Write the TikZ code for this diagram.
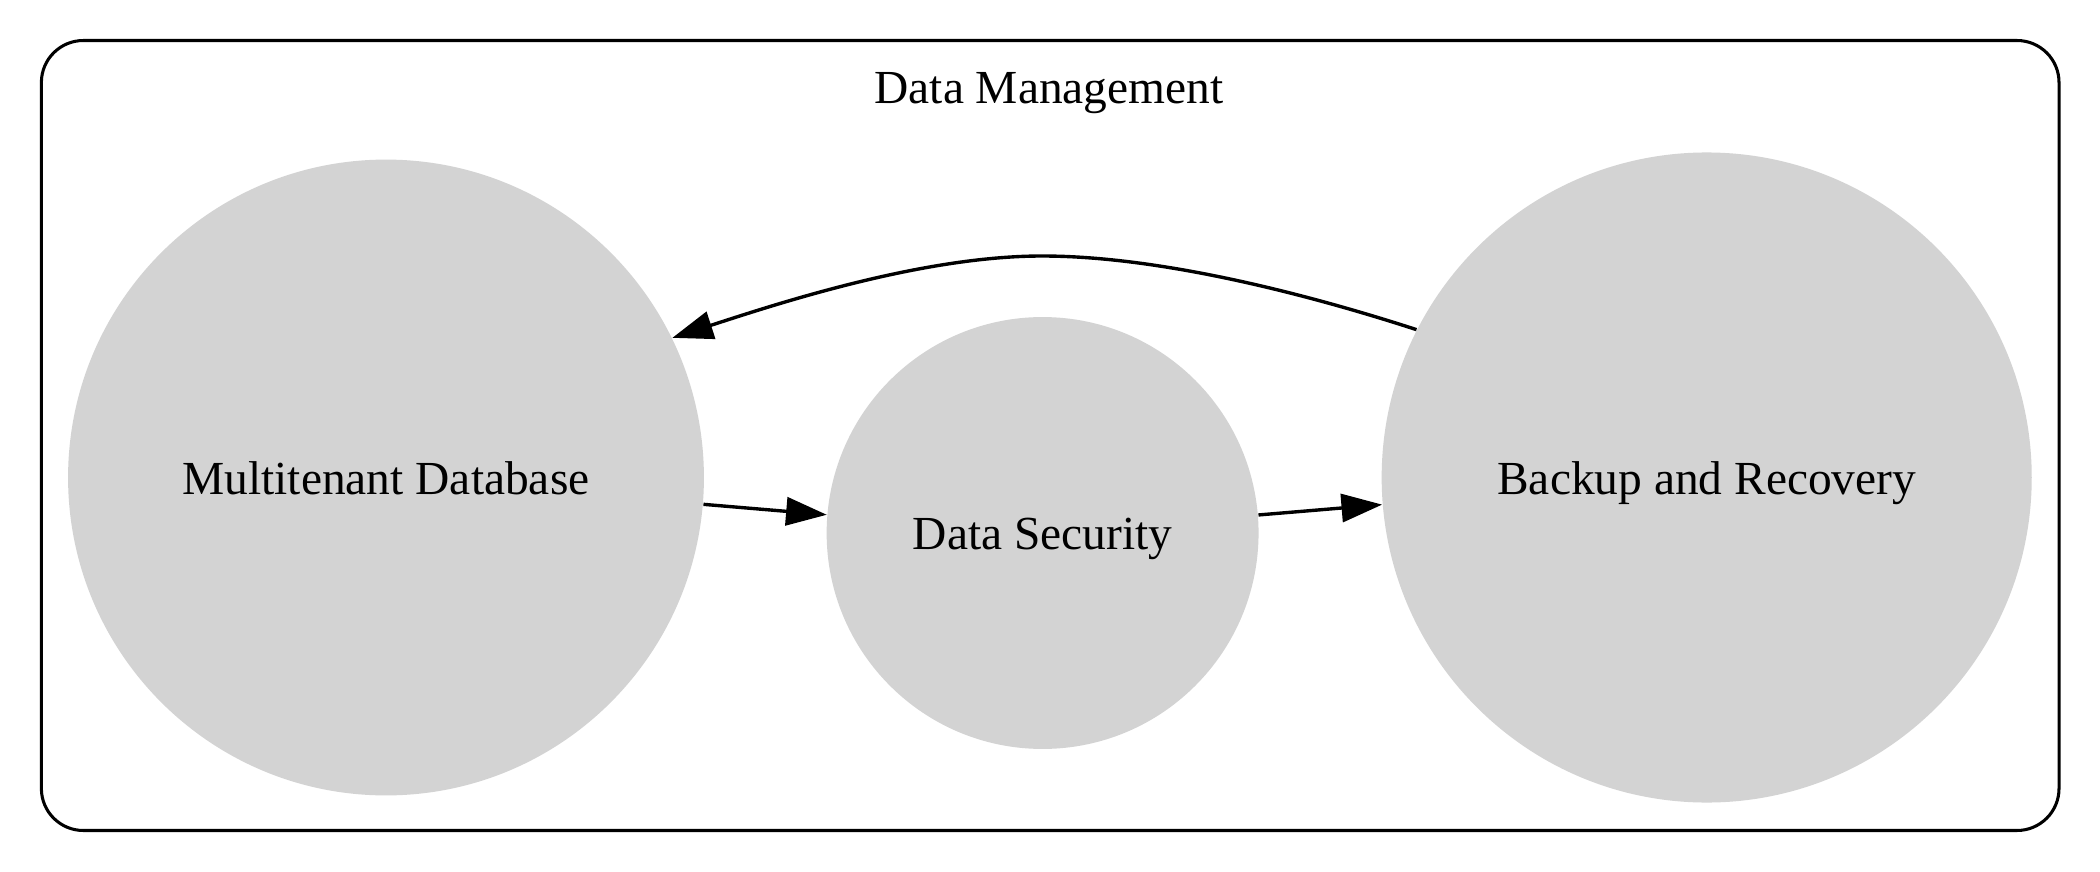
\documentclass[tikz,border=0pt]{standalone}
\usepackage{fontspec}
\setmainfont{Liberation Serif}
\usetikzlibrary{arrows.meta}
\definecolor{nodegray}{RGB}{211,211,211}
\begin{document}
\begin{tikzpicture}[x=0.2952pt,y=-0.2952pt,
  lbl/.style={font=\fontsize{14}{17}\selectfont},
  blob/.style={circle, fill=nodegray, draw=none, inner sep=0pt, lbl, text height=10pt, text depth=0pt},
  conn/.style={line width=1pt, -{Triangle[length=12pt,width=8.3pt]}},
  clusterbox/.style={draw, line width=0.9pt, rounded corners=12.4pt, inner sep=0pt}
]
\useasboundingbox (0,0) rectangle (2100,872);
\node[clusterbox, minimum width=595.6pt, minimum height=233.2pt] (cluster) at (1050.2,435.5) {};
\node[lbl, anchor=base] (title) at (1049,103) {Data Management};
\node[blob, minimum size=187.7pt] (mt) at (386,477.5) {Multitenant Database};
\node[blob, minimum size=127.5pt] (ds) at (1042.6,533) {Data Security};
\node[blob, minimum size=191.9pt] (br) at (1706.7,477.5) {Backup and Recovery};
\coordinate (apex) at (1042,256);
\draw[conn] (mt) -- (ds);
\draw[conn] (ds) -- (br);
\draw[conn] (br.153.7) .. controls +(-104.6,-34) and +(120,0) .. (apex)
  .. controls +(-120,0) and +(104.6,-34) .. (mt.26.8);
\end{tikzpicture}
\end{document}
